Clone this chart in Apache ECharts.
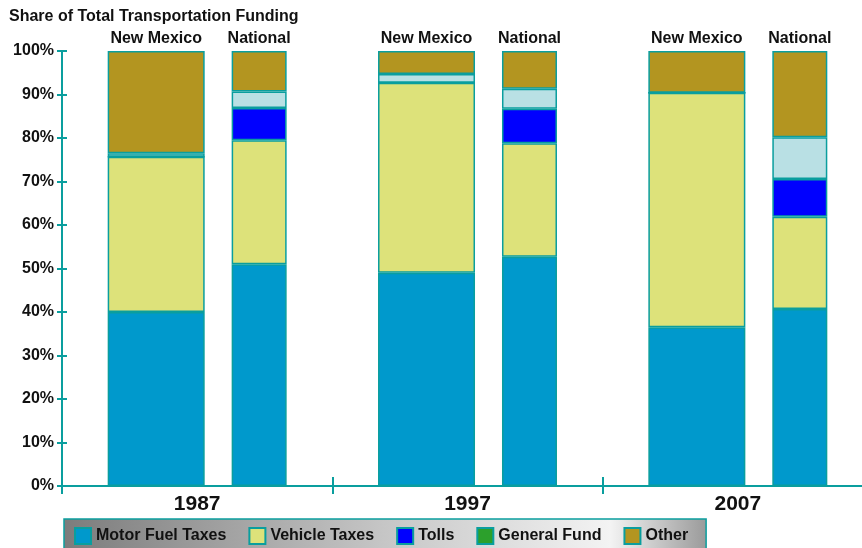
<!DOCTYPE html>
<html lang="en">
<head>
    <meta http-equiv="Content-Type" content="text/html; charset=UTF-8">
    <script type="text/javascript" src="https://cdn.jsdelivr.net/npm/echarts@6/dist/echarts.min.js"></script>
    <style>
        html, body { margin: 0; padding: 0; background: #fff; overflow: hidden; }
    </style>
</head>
<body>
<!-- plot runs past the right edge of the window, as in the original -->
<div id="main" style="height:548px;width:873px;"></div>
<script type="text/javascript">
    // years on the x axis
    var years = ['1987', '1997', '2007'];

    // New Mexico shares (%)
    var nmFuel    = [40.0, 49.0, 36.5];
    var nmVehicle = [35.7, 43.7, 53.9];
    var nmTolls   = [0, 0, 0];
    var nmGeneral = [0.8, 2.0, 0];
    var nmOther   = [23.5, 5.3, 9.6];

    // National shares (%)
    var natFuel    = [51.0, 52.7, 40.7];
    var natVehicle = [28.5, 26.1, 21.2];
    var natTolls   = [7.4, 7.9, 8.7];
    var natGeneral = [3.8, 4.6, 9.6];
    var natOther   = [9.3, 8.7, 19.8];

    var teal = '#0a9e9e';
    var font = 'Arial, "Liberation Sans", sans-serif';
    var colors = {
        'Motor Fuel Taxes': '#0099cc',
        'Vehicle Taxes': '#dde27a',
        'Tolls': '#0000ff',
        'General Fund': '#b9e0e4',
        'Other': '#b39520'
    };

    function makeSeries(name, data, stack, width, groupLabel) {
        var s = {
            name: name,
            type: 'bar',
            stack: stack,
            barWidth: width,
            barGap: '27.8%',
            data: data,
            itemStyle: { color: colors[name], borderColor: teal, borderWidth: 1.5 }
        };
        if (groupLabel) {
            s.label = {
                show: true, position: 'top', distance: 4,
                formatter: groupLabel,
                fontFamily: font, fontWeight: 'bold', fontSize: 16, color: '#111'
            };
        }
        return s;
    }

    var myChart = echarts.init(document.getElementById('main'));

    var option = {
        animation: false,
        textStyle: { fontFamily: font },
        title: {
            text: 'Share of Total Transportation Funding',
            left: 4, top: 4,
            textStyle: { fontFamily: font, fontSize: 16, fontWeight: 'bold', color: '#111' }
        },
        legend: {
            left: 64, top: 519,
            padding: [8, 18, 10, 10],
            icon: 'rect',
            itemWidth: 16, itemHeight: 16, itemGap: 22,
            borderColor: teal, borderWidth: 1.5,
            backgroundColor: {
                type: 'linear', x: 0, y: 0, x2: 1, y2: 0,
                colorStops: [
                    { offset: 0, color: '#7c7c7c' },
                    { offset: 0.5, color: '#c6c6c6' },
                    { offset: 0.85, color: '#f3f3f3' },
                    { offset: 1, color: '#9a9a9a' }
                ]
            },
            textStyle: { fontFamily: font, fontSize: 16, fontWeight: 'bold', color: '#111' },
            data: [
                { name: 'Motor Fuel Taxes' },
                { name: 'Vehicle Taxes' },
                { name: 'Tolls' },
                { name: 'General Fund', itemStyle: { color: '#2ca02c' } },
                { name: 'Other' }
            ]
        },
        grid: { left: 62, top: 51, bottom: 62, right: 0 },
        xAxis: [{
            type: 'category',
            position: 'bottom',
            data: years,
            axisLine: { lineStyle: { color: teal, width: 2 } },
            axisTick: { show: true, length: 8, lineStyle: { color: teal, width: 2 } },
            axisLabel: { fontFamily: font, fontSize: 21, fontWeight: 'bold', color: '#111', margin: 8 }
        }, {
            type: 'category',
            position: 'bottom',
            data: years,
            axisLine: { show: false },
            axisTick: { show: true, inside: true, length: 9, lineStyle: { color: teal, width: 2 } },
            axisLabel: { show: false }
        }],
        yAxis: [{
            type: 'value',
            min: 0, max: 100, interval: 10,
            axisLine: { show: true, lineStyle: { color: teal, width: 2 } },
            axisTick: { show: true, length: 5, lineStyle: { color: teal, width: 2 } },
            splitLine: { show: false },
            axisLabel: {
                formatter: '{value}%', margin: 8,
                fontFamily: font, fontSize: 16, fontWeight: 'bold', color: '#111'
            }
        }, {
            type: 'value',
            position: 'left',
            min: 0, max: 100, interval: 10,
            axisLine: { show: false },
            axisTick: { show: true, inside: true, length: 5, lineStyle: { color: teal, width: 2 } },
            splitLine: { show: false },
            axisLabel: { show: false }
        }],
        series: [
            makeSeries('Motor Fuel Taxes', nmFuel, 'nm', 97),
            makeSeries('Vehicle Taxes', nmVehicle, 'nm', 97),
            makeSeries('Tolls', nmTolls, 'nm', 97),
            makeSeries('General Fund', nmGeneral, 'nm', 97),
            makeSeries('Other', nmOther, 'nm', 97, 'New Mexico'),
            makeSeries('Motor Fuel Taxes', natFuel, 'nat', 55),
            makeSeries('Vehicle Taxes', natVehicle, 'nat', 55),
            makeSeries('Tolls', natTolls, 'nat', 55),
            makeSeries('General Fund', natGeneral, 'nat', 55),
            makeSeries('Other', natOther, 'nat', 55, 'National')
        ]
    };

    myChart.setOption(option);
</script>
</body>
</html>
